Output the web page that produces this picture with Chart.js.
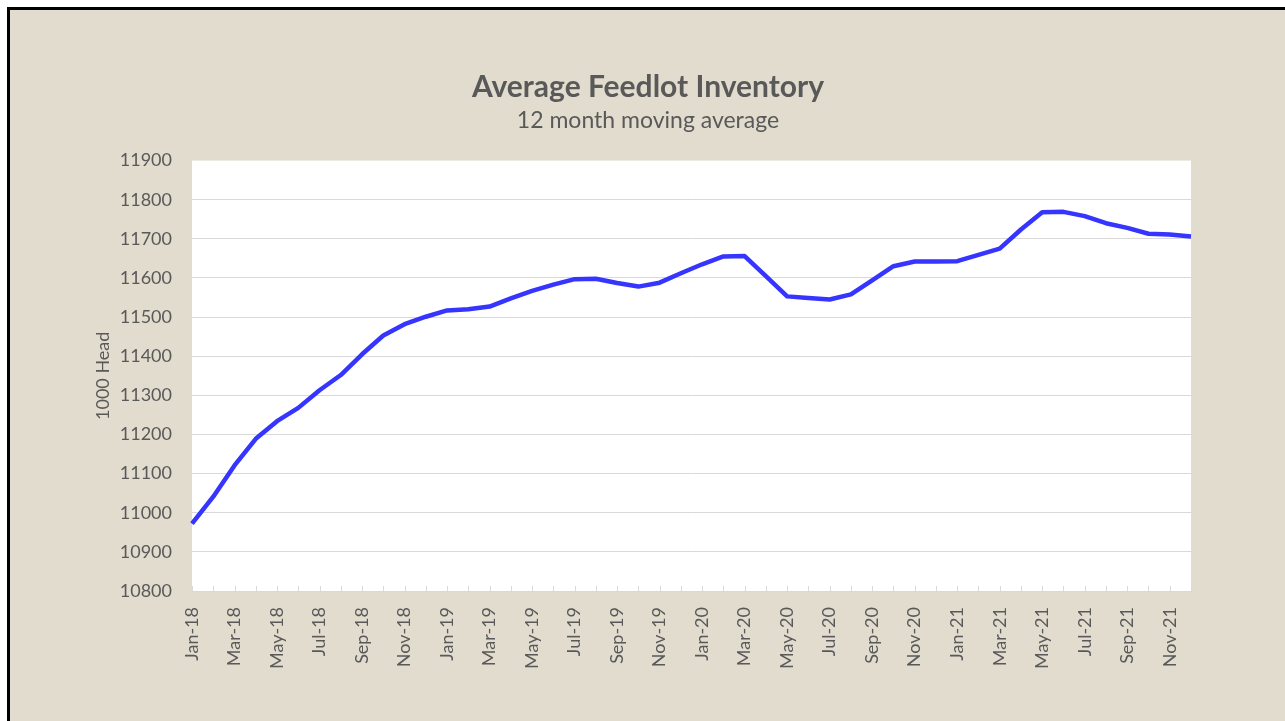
<!DOCTYPE html>
<html>
<head>
<meta charset="utf-8">
<title>Average Feedlot Inventory</title>
<script src="https://cdn.jsdelivr.net/npm/chart.js@4.4.1/dist/chart.umd.min.js"></script>
<style>
    html, body { margin: 0; padding: 0; background: #ffffff; overflow: hidden; }
    #marco {
        position: absolute; left: 7px; top: 7px; right: 0; bottom: 0;
        border-left: 3px solid #000; border-top: 3px solid #000;
        background: #e2dccf;
    }
    #grafico { position: absolute; left: 0; top: 0; }
</style>
</head>
<body>
<div id="marco"></div>
<canvas id="grafico" width="1285" height="721"></canvas>
<script>
// Datos del gráfico
const meses = [
    'Jan-18', 'Feb-18', 'Mar-18', 'Apr-18', 'May-18', 'Jun-18', 'Jul-18', 'Aug-18', 'Sep-18', 'Oct-18', 'Nov-18', 'Dec-18',
    'Jan-19', 'Feb-19', 'Mar-19', 'Apr-19', 'May-19', 'Jun-19', 'Jul-19', 'Aug-19', 'Sep-19', 'Oct-19', 'Nov-19', 'Dec-19',
    'Jan-20', 'Feb-20', 'Mar-20', 'Apr-20', 'May-20', 'Jun-20', 'Jul-20', 'Aug-20', 'Sep-20', 'Oct-20', 'Nov-20', 'Dec-20',
    'Jan-21', 'Feb-21', 'Mar-21', 'Apr-21', 'May-21', 'Jun-21', 'Jul-21', 'Aug-21', 'Sep-21', 'Oct-21', 'Nov-21', 'Dec-21'
];
const inventario = [
    10972, 11041, 11121, 11189, 11234, 11268, 11313, 11352, 11405, 11453, 11482, 11501,
    11517, 11520, 11527, 11548, 11567, 11583, 11597, 11598, 11587, 11578, 11588, 11612,
    11635, 11655, 11656, 11605, 11553, 11549, 11545, 11558, 11594, 11630, 11642, 11642,
    11643, 11659, 11675, 11724, 11768, 11769, 11758, 11740, 11728, 11713, 11711, 11706
];
const ejeYMin = 10800;
const ejeYMax = 11900;
const ejeYPaso = 100;

const gris = '#595959';
const lineaGrid = '#d9d9d9';

Chart.defaults.font.family = 'Lato';
Chart.defaults.color = gris;

// Fondo blanco del área de trazado + marcas de cada mes en el eje X
const areaBlanca = {
    id: 'areaBlanca',
    beforeDraw(chart) {
        const {ctx, chartArea} = chart;
        ctx.save();
        ctx.fillStyle = '#ffffff';
        ctx.fillRect(chartArea.left, chartArea.top, chartArea.right - chartArea.left, chartArea.bottom - chartArea.top);
        ctx.restore();
    },
    afterDraw(chart) {
        const {ctx, chartArea} = chart;
        const x = chart.scales.x;
        ctx.save();
        ctx.strokeStyle = lineaGrid;
        ctx.lineWidth = 1;
        ctx.beginPath();
        for (let i = 0; i < meses.length; i++) {
            const px = Math.round(x.getPixelForTick(i)) + 0.5;
            ctx.moveTo(px, chartArea.bottom);
            ctx.lineTo(px, chartArea.bottom - 5);
        }
        ctx.stroke();
        ctx.restore();
    }
};

const ctx = document.getElementById('grafico').getContext('2d');
const grafico = new Chart(ctx, {
    type: 'line',
    data: {
        labels: meses,
        datasets: [{
            label: 'Inventario',
            data: inventario,
            borderColor: '#3535ff',
            borderWidth: 4.5,
            borderJoinStyle: 'round',
            pointRadius: 0,
            tension: 0,
            fill: false
        }]
    },
    options: {
        responsive: false,
        animation: false,
        layout: {
            padding: { left: 105, right: 94, top: 0, bottom: 0 }
        },
        plugins: {
            legend: { display: false },
            tooltip: { enabled: false },
            title: {
                display: true,
                text: 'Average Feedlot Inventory',
                color: gris,
                font: { size: 30, weight: 'bold' },
                padding: { top: 69, bottom: 0 }
            },
            subtitle: {
                display: true,
                text: '12 month moving average',
                color: gris,
                font: { size: 23 },
                padding: { top: 2, bottom: 26 }
            }
        },
        scales: {
            x: {
                offset: false,
                grid: { display: false },
                border: { display: true, color: lineaGrid, width: 1 },
                ticks: {
                    autoSkip: false,
                    minRotation: 90,
                    maxRotation: 90,
                    padding: 8,
                    color: gris,
                    font: { size: 18 },
                    callback: function(value, index) {
                        return index % 2 === 0 ? meses[index] : '';
                    }
                },
                afterFit: function(scale) {
                    scale.height = 130;
                }
            },
            y: {
                min: ejeYMin,
                max: ejeYMax,
                grid: {
                    drawTicks: false,
                    color: function(c) {
                        return c.tick && c.tick.value === ejeYMax ? 'rgba(0,0,0,0)' : lineaGrid;
                    },
                    lineWidth: 1
                },
                border: { display: false },
                ticks: {
                    stepSize: ejeYPaso,
                    padding: 20,
                    color: gris,
                    font: { size: 18 },
                    callback: function(value) {
                        return String(value); // sin separador de miles
                    }
                },
                title: {
                    display: true,
                    text: '1000 Head',
                    color: gris,
                    font: { size: 18 },
                    padding: { top: -12.8, bottom: 0 }
                },
                afterFit: function(scale) {
                    scale.width = 87;
                }
            }
        }
    },
    plugins: [areaBlanca]
});
</script>
</body>
</html>
